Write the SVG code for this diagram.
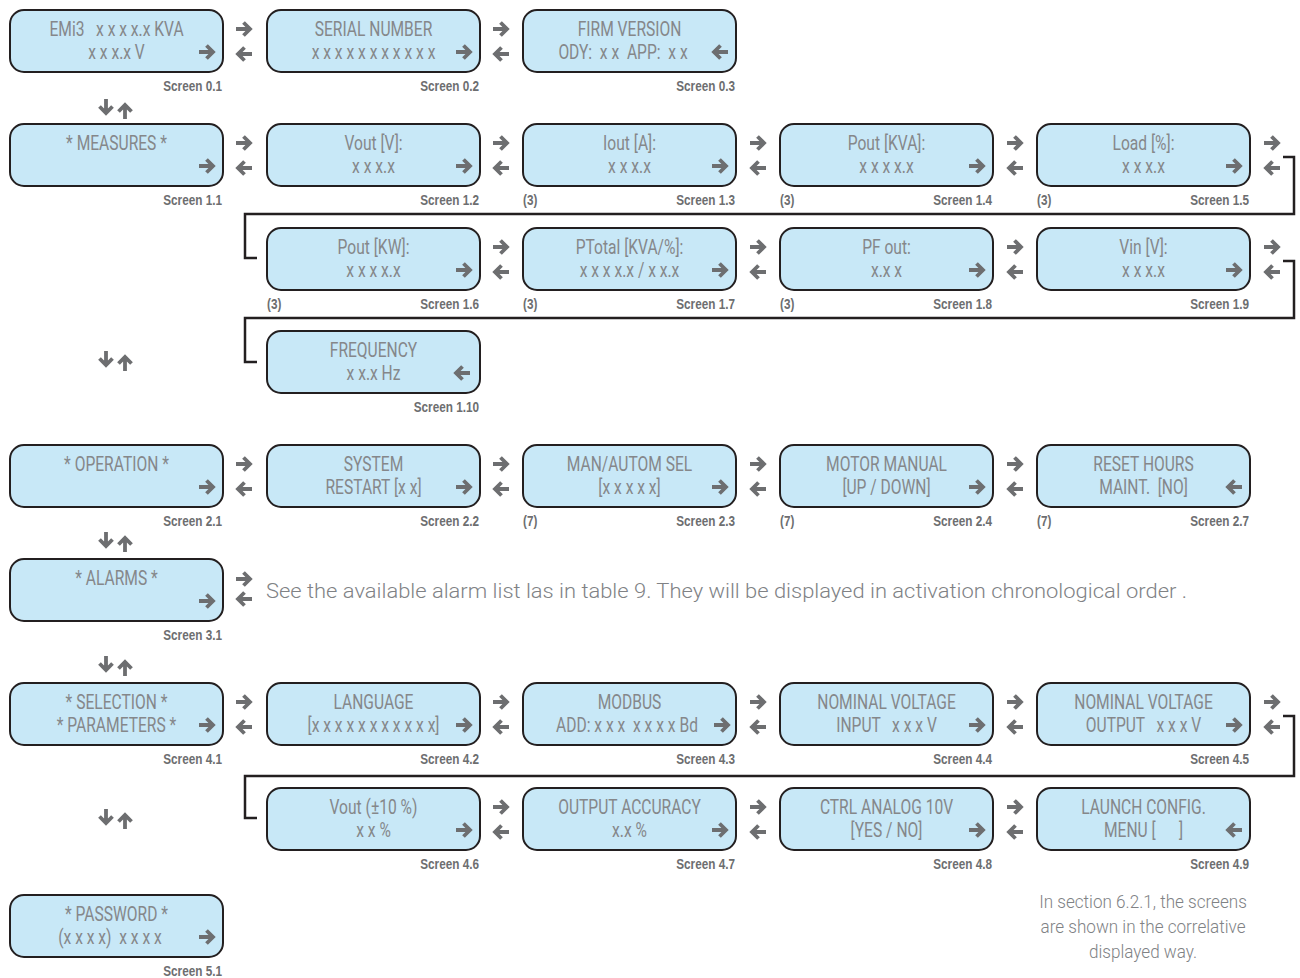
<svg xmlns="http://www.w3.org/2000/svg" xmlns:xlink="http://www.w3.org/1999/xlink" width="1300" height="978" viewBox="0 0 1300 978">
<style>
.box{fill:#c8e8f7;stroke:#231f20;stroke-width:2}
.t{font-family:Roboto,"Liberation Sans",sans-serif;font-weight:400;font-size:20px;fill:#85878a;text-anchor:middle;white-space:pre}
.lb{font-family:"Liberation Sans",Arial,sans-serif;font-weight:700;font-size:14px;fill:#6d6e70;text-anchor:end}
.ls{font-family:"Liberation Sans",Arial,sans-serif;font-weight:700;font-size:14px;fill:#6d6e70;text-anchor:start}
.ar{fill:none;stroke:#6d6e70;stroke-width:3.8}
.br{fill:none;stroke:#231f20;stroke-width:2.5}
.nt{font-family:Roboto,"Liberation Sans",sans-serif;font-weight:300;font-size:20px;fill:#808285;white-space:pre}
.nc{font-family:Roboto,"Liberation Sans",sans-serif;font-weight:300;font-size:19px;fill:#808285;text-anchor:middle}
</style>
<defs>
<path id="r" class="ar" d="M-8,0H5M-0.5,-6.5L6,0L-0.5,6.5"/>
<path id="l" class="ar" d="M8,0H-5M0.5,-6.5L-6,0L0.5,6.5"/>
<path id="d" class="ar" d="M0,-8V5M-6.5,-0.5L0,6L6.5,-0.5"/>
<path id="u" class="ar" d="M0,8V-5M-6.5,0.5L0,-6L6.5,0.5"/>
<rect id="bx" class="box" width="213" height="62" rx="14"/>
</defs>
<rect width="1300" height="978" fill="#ffffff"/>

<!-- Row 0 -->
<g id="s0-1" transform="translate(10,10)"><use href="#bx"/>
<text class="t" transform="translate(106.5,26) scale(.78,1)">EMi3   x x x x.x KVA</text>
<text class="t" transform="translate(106.5,49) scale(.78,1)">x x x.x V</text>
<use href="#r" x="197" y="42"/>
<text class="lb" transform="translate(212,81) scale(.84,1)">Screen 0.1</text></g>

<g id="s0-2" transform="translate(267,10)"><use href="#bx"/>
<text class="t" transform="translate(106.5,26) scale(.78,1)">SERIAL NUMBER</text>
<text class="t" transform="translate(106.5,49) scale(.78,1)">x x x x x x x x x x x</text>
<use href="#r" x="197" y="42"/>
<text class="lb" transform="translate(212,81) scale(.84,1)">Screen 0.2</text></g>

<g id="s0-3" transform="translate(523,10)"><use href="#bx"/>
<text class="t" transform="translate(106.5,26) scale(.78,1)">FIRM VERSION</text>
<text class="t" transform="translate(100,49) scale(.78,1)">ODY:  x x  APP:  x x</text>
<use href="#l" x="197" y="42"/>
<text class="lb" transform="translate(212,81) scale(.84,1)">Screen 0.3</text></g>

<!-- Row 1 -->
<g id="s1-1" transform="translate(10,124)"><use href="#bx"/>
<text class="t" transform="translate(106.5,26) scale(.78,1)">* MEASURES *</text>
<use href="#r" x="197" y="42"/>
<text class="lb" transform="translate(212,81) scale(.84,1)">Screen 1.1</text></g>

<g id="s1-2" transform="translate(267,124)"><use href="#bx"/>
<text class="t" transform="translate(106.5,26) scale(.78,1)">Vout [V]:</text>
<text class="t" transform="translate(106.5,49) scale(.78,1)">x x x.x</text>
<use href="#r" x="197" y="42"/>
<text class="lb" transform="translate(212,81) scale(.84,1)">Screen 1.2</text></g>

<g id="s1-3" transform="translate(523,124)"><use href="#bx"/>
<text class="t" transform="translate(106.5,26) scale(.78,1)">Iout [A]:</text>
<text class="t" transform="translate(106.5,49) scale(.78,1)">x x x.x</text>
<use href="#r" x="197" y="42"/>
<text class="ls" transform="translate(0,81) scale(.84,1)">(3)</text>
<text class="lb" transform="translate(212,81) scale(.84,1)">Screen 1.3</text></g>

<g id="s1-4" transform="translate(780,124)"><use href="#bx"/>
<text class="t" transform="translate(106.5,26) scale(.78,1)">Pout [KVA]:</text>
<text class="t" transform="translate(106.5,49) scale(.78,1)">x x x x.x</text>
<use href="#r" x="197" y="42"/>
<text class="ls" transform="translate(0,81) scale(.84,1)">(3)</text>
<text class="lb" transform="translate(212,81) scale(.84,1)">Screen 1.4</text></g>

<g id="s1-5" transform="translate(1037,124)"><use href="#bx"/>
<text class="t" transform="translate(106.5,26) scale(.78,1)">Load [%]:</text>
<text class="t" transform="translate(106.5,49) scale(.78,1)">x x x.x</text>
<use href="#r" x="197" y="42"/>
<text class="ls" transform="translate(0,81) scale(.84,1)">(3)</text>
<text class="lb" transform="translate(212,81) scale(.84,1)">Screen 1.5</text></g>

<!-- Row 1b -->
<g id="s1-6" transform="translate(267,228)"><use href="#bx"/>
<text class="t" transform="translate(106.5,26) scale(.78,1)">Pout [KW]:</text>
<text class="t" transform="translate(106.5,49) scale(.78,1)">x x x x.x</text>
<use href="#r" x="197" y="42"/>
<text class="ls" transform="translate(0,81) scale(.84,1)">(3)</text>
<text class="lb" transform="translate(212,81) scale(.84,1)">Screen 1.6</text></g>

<g id="s1-7" transform="translate(523,228)"><use href="#bx"/>
<text class="t" transform="translate(106.5,26) scale(.78,1)">PTotal [KVA/%]:</text>
<text class="t" transform="translate(106.5,49) scale(.78,1)">x x x x.x / x x.x</text>
<use href="#r" x="197" y="42"/>
<text class="ls" transform="translate(0,81) scale(.84,1)">(3)</text>
<text class="lb" transform="translate(212,81) scale(.84,1)">Screen 1.7</text></g>

<g id="s1-8" transform="translate(780,228)"><use href="#bx"/>
<text class="t" transform="translate(106.5,26) scale(.78,1)">PF out:</text>
<text class="t" transform="translate(106.5,49) scale(.78,1)">x.x x</text>
<use href="#r" x="197" y="42"/>
<text class="ls" transform="translate(0,81) scale(.84,1)">(3)</text>
<text class="lb" transform="translate(212,81) scale(.84,1)">Screen 1.8</text></g>

<g id="s1-9" transform="translate(1037,228)"><use href="#bx"/>
<text class="t" transform="translate(106.5,26) scale(.78,1)">Vin [V]:</text>
<text class="t" transform="translate(106.5,49) scale(.78,1)">x x x.x</text>
<use href="#r" x="197" y="42"/>
<text class="lb" transform="translate(212,81) scale(.84,1)">Screen 1.9</text></g>

<!-- Row 1c -->
<g id="s1-10" transform="translate(267,331)"><use href="#bx"/>
<text class="t" transform="translate(106.5,26) scale(.78,1)">FREQUENCY</text>
<text class="t" transform="translate(106.5,49) scale(.78,1)">x x.x Hz</text>
<use href="#l" x="195" y="42"/>
<text class="lb" transform="translate(212,81) scale(.84,1)">Screen 1.10</text></g>

<!-- Row 2 -->
<g id="s2-1" transform="translate(10,445)"><use href="#bx"/>
<text class="t" transform="translate(106.5,26) scale(.78,1)">* OPERATION *</text>
<use href="#r" x="197" y="42"/>
<text class="lb" transform="translate(212,81) scale(.84,1)">Screen 2.1</text></g>

<g id="s2-2" transform="translate(267,445)"><use href="#bx"/>
<text class="t" transform="translate(106.5,26) scale(.78,1)">SYSTEM</text>
<text class="t" transform="translate(106.5,49) scale(.78,1)">RESTART [x x]</text>
<use href="#r" x="197" y="42"/>
<text class="lb" transform="translate(212,81) scale(.84,1)">Screen 2.2</text></g>

<g id="s2-3" transform="translate(523,445)"><use href="#bx"/>
<text class="t" transform="translate(106.5,26) scale(.78,1)">MAN/AUTOM SEL</text>
<text class="t" transform="translate(106.5,49) scale(.78,1)">[x x x x x]</text>
<use href="#r" x="197" y="42"/>
<text class="ls" transform="translate(0,81) scale(.84,1)">(7)</text>
<text class="lb" transform="translate(212,81) scale(.84,1)">Screen 2.3</text></g>

<g id="s2-4" transform="translate(780,445)"><use href="#bx"/>
<text class="t" transform="translate(106.5,26) scale(.78,1)">MOTOR MANUAL</text>
<text class="t" transform="translate(106.5,49) scale(.78,1)">[UP / DOWN]</text>
<use href="#r" x="197" y="42"/>
<text class="ls" transform="translate(0,81) scale(.84,1)">(7)</text>
<text class="lb" transform="translate(212,81) scale(.84,1)">Screen 2.4</text></g>

<g id="s2-7" transform="translate(1037,445)"><use href="#bx"/>
<text class="t" transform="translate(106.5,26) scale(.78,1)">RESET HOURS</text>
<text class="t" transform="translate(106.5,49) scale(.78,1)">MAINT.  [NO]</text>
<use href="#l" x="197" y="42"/>
<text class="ls" transform="translate(0,81) scale(.84,1)">(7)</text>
<text class="lb" transform="translate(212,81) scale(.84,1)">Screen 2.7</text></g>

<!-- Row 3 -->
<g id="s3-1" transform="translate(10,559)"><use href="#bx"/>
<text class="t" transform="translate(106.5,26) scale(.78,1)">* ALARMS *</text>
<use href="#r" x="197" y="42"/>
<text class="lb" transform="translate(212,81) scale(.84,1)">Screen 3.1</text></g>

<text id="alarm-note" class="nt" x="266" y="598" textLength="921" lengthAdjust="spacingAndGlyphs">See the available alarm list las in table 9. They will be displayed in activation chronological order .</text>

<!-- Row 4 -->
<g id="s4-1" transform="translate(10,683)"><use href="#bx"/>
<text class="t" transform="translate(106.5,26) scale(.78,1)">* SELECTION *</text>
<text class="t" transform="translate(106.5,49) scale(.78,1)">* PARAMETERS *</text>
<use href="#r" x="197" y="42"/>
<text class="lb" transform="translate(212,81) scale(.84,1)">Screen 4.1</text></g>

<g id="s4-2" transform="translate(267,683)"><use href="#bx"/>
<text class="t" transform="translate(106.5,26) scale(.78,1)">LANGUAGE</text>
<text class="t" transform="translate(106.5,49) scale(.78,1)">[x x x x x x x x x x x]</text>
<use href="#r" x="197" y="42"/>
<text class="lb" transform="translate(212,81) scale(.84,1)">Screen 4.2</text></g>

<g id="s4-3" transform="translate(523,683)"><use href="#bx"/>
<text class="t" transform="translate(106.5,26) scale(.78,1)">MODBUS</text>
<text class="t" transform="translate(104,49) scale(.78,1)">ADD: x x x  x x x x Bd</text>
<use href="#r" x="199" y="42"/>
<text class="lb" transform="translate(212,81) scale(.84,1)">Screen 4.3</text></g>

<g id="s4-4" transform="translate(780,683)"><use href="#bx"/>
<text class="t" transform="translate(106.5,26) scale(.78,1)">NOMINAL VOLTAGE</text>
<text class="t" transform="translate(106.5,49) scale(.78,1)">INPUT   x x x V</text>
<use href="#r" x="197" y="42"/>
<text class="lb" transform="translate(212,81) scale(.84,1)">Screen 4.4</text></g>

<g id="s4-5" transform="translate(1037,683)"><use href="#bx"/>
<text class="t" transform="translate(106.5,26) scale(.78,1)">NOMINAL VOLTAGE</text>
<text class="t" transform="translate(106.5,49) scale(.78,1)">OUTPUT   x x x V</text>
<use href="#r" x="197" y="42"/>
<text class="lb" transform="translate(212,81) scale(.84,1)">Screen 4.5</text></g>

<!-- Row 4b -->
<g id="s4-6" transform="translate(267,788)"><use href="#bx"/>
<text class="t" transform="translate(106.5,26) scale(.78,1)">Vout (±10 %)</text>
<text class="t" transform="translate(106.5,49) scale(.78,1)">x x %</text>
<use href="#r" x="197" y="42"/>
<text class="lb" transform="translate(212,81) scale(.84,1)">Screen 4.6</text></g>

<g id="s4-7" transform="translate(523,788)"><use href="#bx"/>
<text class="t" transform="translate(106.5,26) scale(.78,1)">OUTPUT ACCURACY</text>
<text class="t" transform="translate(106.5,49) scale(.78,1)">x.x %</text>
<use href="#r" x="197" y="42"/>
<text class="lb" transform="translate(212,81) scale(.84,1)">Screen 4.7</text></g>

<g id="s4-8" transform="translate(780,788)"><use href="#bx"/>
<text class="t" transform="translate(106.5,26) scale(.78,1)">CTRL ANALOG 10V</text>
<text class="t" transform="translate(106.5,49) scale(.78,1)">[YES / NO]</text>
<use href="#r" x="197" y="42"/>
<text class="lb" transform="translate(212,81) scale(.84,1)">Screen 4.8</text></g>

<g id="s4-9" transform="translate(1037,788)"><use href="#bx"/>
<text class="t" transform="translate(106.5,26) scale(.78,1)">LAUNCH CONFIG.</text>
<text class="t" transform="translate(106.5,49) scale(.78,1)">MENU [      ]</text>
<use href="#l" x="197" y="42"/>
<text class="lb" transform="translate(212,81) scale(.84,1)">Screen 4.9</text></g>

<!-- Row 5 -->
<g id="s5-1" transform="translate(10,895)"><use href="#bx"/>
<text class="t" transform="translate(106.5,26) scale(.78,1)">* PASSWORD *</text>
<text class="t" transform="translate(100,49) scale(.78,1)">(x x x x)  x x x x</text>
<use href="#r" x="197" y="42"/>
<text class="lb" transform="translate(212,81) scale(.84,1)">Screen 5.1</text></g>

<g id="footnote">
<text class="nc" transform="translate(1143,908) scale(.9,1)">In section 6.2.1, the screens</text>
<text class="nc" transform="translate(1143,933) scale(.9,1)">are shown in the correlative</text>
<text class="nc" transform="translate(1143,958) scale(.9,1)">displayed way.</text>
</g>

<g id="connectors">
<!-- row 0 -->
<use href="#r" x="244" y="29"/><use href="#l" x="244" y="54"/>
<use href="#r" x="501" y="29"/><use href="#l" x="501" y="54"/>
<!-- row 1 -->
<use href="#r" x="244" y="143"/><use href="#l" x="244" y="168"/>
<use href="#r" x="501" y="143"/><use href="#l" x="501" y="168"/>
<use href="#r" x="758" y="143"/><use href="#l" x="758" y="168"/>
<use href="#r" x="1015" y="143"/><use href="#l" x="1015" y="168"/>
<use href="#r" x="1272" y="143"/><use href="#l" x="1272" y="168"/>
<path class="br" d="M1283,157H1294V214H245V258H257"/>
<!-- row 1b -->
<use href="#r" x="501" y="247"/><use href="#l" x="501" y="272"/>
<use href="#r" x="758" y="247"/><use href="#l" x="758" y="272"/>
<use href="#r" x="1015" y="247"/><use href="#l" x="1015" y="272"/>
<use href="#r" x="1272" y="247"/><use href="#l" x="1272" y="272"/>
<path class="br" d="M1283,261H1294V318H245V362H257"/>
<!-- row 2 -->
<use href="#r" x="244" y="464"/><use href="#l" x="244" y="489"/>
<use href="#r" x="501" y="464"/><use href="#l" x="501" y="489"/>
<use href="#r" x="758" y="464"/><use href="#l" x="758" y="489"/>
<use href="#r" x="1015" y="464"/><use href="#l" x="1015" y="489"/>
<!-- row 3 -->
<use href="#r" x="244" y="579"/><use href="#l" x="244" y="599"/>
<!-- row 4 -->
<use href="#r" x="244" y="702"/><use href="#l" x="244" y="727"/>
<use href="#r" x="501" y="702"/><use href="#l" x="501" y="727"/>
<use href="#r" x="758" y="702"/><use href="#l" x="758" y="727"/>
<use href="#r" x="1015" y="702"/><use href="#l" x="1015" y="727"/>
<use href="#r" x="1272" y="702"/><use href="#l" x="1272" y="727"/>
<path class="br" d="M1283,716H1294V776H245V818H257"/>
<!-- row 4b -->
<use href="#r" x="501" y="807"/><use href="#l" x="501" y="832"/>
<use href="#r" x="758" y="807"/><use href="#l" x="758" y="832"/>
<use href="#r" x="1015" y="807"/><use href="#l" x="1015" y="832"/>
<!-- vertical down/up -->
<use href="#d" x="106" y="107"/><use href="#u" x="125" y="111"/>
<use href="#d" x="106" y="359"/><use href="#u" x="125" y="363"/>
<use href="#d" x="106" y="540"/><use href="#u" x="125" y="544"/>
<use href="#d" x="106" y="664"/><use href="#u" x="125" y="668"/>
<use href="#d" x="106" y="817"/><use href="#u" x="125" y="821"/>
</g>
</svg>
